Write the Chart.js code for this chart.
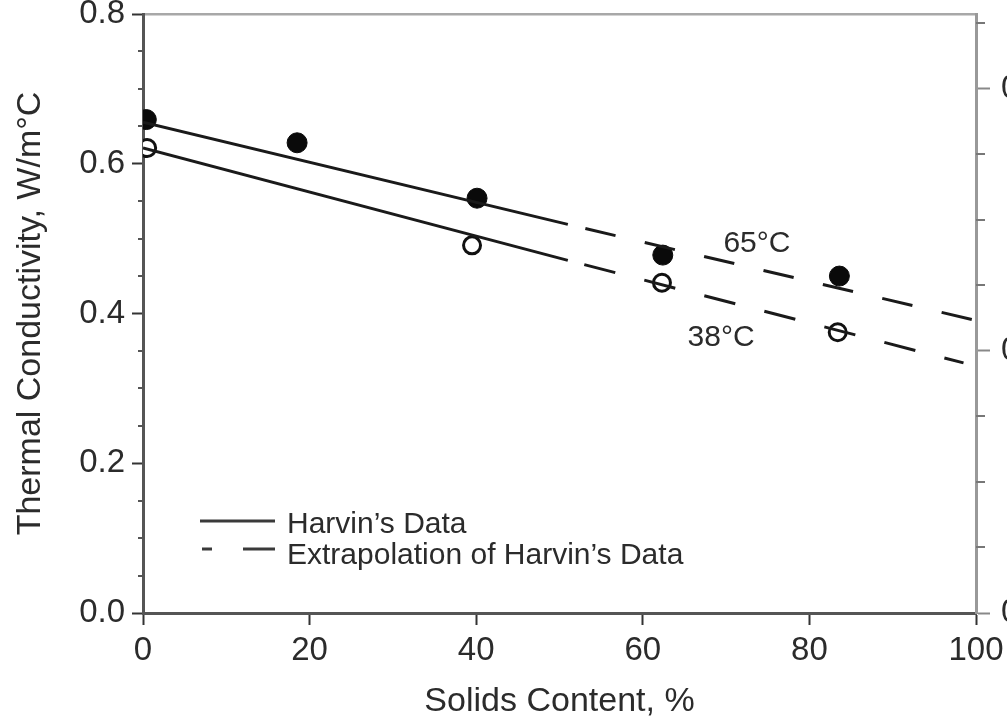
<!DOCTYPE html>
<html>
<head>
<meta charset="utf-8">
<script src="https://cdn.jsdelivr.net/npm/chart.js@4.4.0/dist/chart.umd.min.js"></script>
<style>
html, body { margin: 0; padding: 0; background: #fff; overflow: hidden; }
#wrap { width: 1007px; height: 722px; position: relative; }
</style>
</head>
<body>
<div id="wrap"><canvas id="chart" width="1007" height="722"></canvas></div>
<script>
// measured points, solids content (%) vs thermal conductivity (W/m°C)
const solids65 = [0.4, 18.5, 40.1, 62.4, 83.6];
const cond65 = [0.659, 0.628, 0.554, 0.478, 0.450];
const solids38 = [0.5, 39.5, 62.3, 83.4];
const cond38 = [0.621, 0.491, 0.441, 0.375];

// fitted lines: solid part = Harvin's data, dashed part = extrapolation
const fit65X = [0, 51, 99.5];
const fit65Y = [0.6555, 0.519, 0.392];
const fit38X = [0, 51, 98.5];
const fit38Y = [0.621, 0.471, 0.334];

// axis ticks
const xTicks = [0, 20, 40, 60, 80, 100];
const yTicks = [0.0, 0.2, 0.4, 0.6, 0.8];
const yMinorStep = 0.05;
const rightTicks = [0.0, 0.2, 0.4];   // right axis, Btu/hr ft °F
const rightMinorStep = 0.05;
const rightMax = 0.457;

// curve labels
const curveLabels = [
    { text: '65°C', x: 73.7, y: 0.493 },
    { text: '38°C', x: 69.4, y: 0.368 }
];

const FONT = "'Liberation Sans', Arial, sans-serif";
const TEXT = '#2b2b2b';

function pts(xs, ys) {
    return xs.map((x, i) => ({ x: x, y: ys[i] }));
}

// zero out the label overhang padding so the plot box stays where it is
function noOverhang(s) {
    s.paddingTop = 0;
    s.paddingBottom = 0;
    s.paddingLeft = 0;
    s.paddingRight = 0;
}

// short ticks between the labelled ones on both vertical axes
const minorTicks = {
    id: 'minorTicks',
    afterDraw(chart) {
        const ctx = chart.ctx;
        const y = chart.scales.y;
        const yR = chart.scales.yR;
        ctx.save();
        ctx.lineWidth = 2;
        ctx.strokeStyle = '#555';
        for (let v = yMinorStep; v < y.max; v += yMinorStep) {
            if (yTicks.some(t => Math.abs(t - v) < 1e-6)) continue;
            const py = Math.round(y.getPixelForValue(v));
            ctx.beginPath();
            ctx.moveTo(y.right - 5, py);
            ctx.lineTo(y.right, py);
            ctx.stroke();
        }
        ctx.strokeStyle = '#777';
        for (let v = rightMinorStep; v < yR.max; v += rightMinorStep) {
            if (rightTicks.some(t => Math.abs(t - v) < 1e-6)) continue;
            const py = Math.round(yR.getPixelForValue(v));
            ctx.beginPath();
            ctx.moveTo(yR.left, py);
            ctx.lineTo(yR.left + 9, py);
            ctx.stroke();
        }
        ctx.restore();
    }
};

// legend inside the plot and the curve labels
const notes = {
    id: 'notes',
    afterDraw(chart) {
        const ctx = chart.ctx;
        const xs = chart.scales.x;
        const ys = chart.scales.y;
        ctx.save();
        ctx.strokeStyle = '#3a3a3a';
        ctx.lineWidth = 3;
        ctx.beginPath();
        ctx.moveTo(200, 521); ctx.lineTo(275, 521);
        ctx.moveTo(202, 549); ctx.lineTo(212, 549);
        ctx.moveTo(243, 549); ctx.lineTo(275, 549);
        ctx.stroke();

        ctx.fillStyle = TEXT;
        ctx.font = '30px ' + FONT;
        ctx.textAlign = 'left';
        ctx.textBaseline = 'middle';
        ctx.fillText('Harvin’s Data', 287, 525);
        ctx.fillText('Extrapolation of Harvin’s Data', 287, 556);

        ctx.textAlign = 'center';
        curveLabels.forEach(l => {
            ctx.fillText(l.text, xs.getPixelForValue(l.x), ys.getPixelForValue(l.y));
        });
        ctx.restore();
    }
};

const lineStyle = { showLine: true, borderColor: '#1a1a1a', borderWidth: 3, pointRadius: 0 };

const ctx = document.getElementById('chart').getContext('2d');
const chart = new Chart(ctx, {
    type: 'scatter',
    data: {
        datasets: [
            Object.assign({ data: pts(fit65X.slice(0, 2), fit65Y.slice(0, 2)) }, lineStyle),
            Object.assign({ data: pts(fit65X.slice(1), fit65Y.slice(1)),
                borderDash: [31, 30], borderDashOffset: 43 }, lineStyle),
            Object.assign({ data: pts(fit38X.slice(0, 2), fit38Y.slice(0, 2)) }, lineStyle),
            Object.assign({ data: pts(fit38X.slice(1), fit38Y.slice(1)),
                borderDash: [32, 30], borderDashOffset: 45 }, lineStyle),
            {
                label: '65°C',
                data: pts(solids65, cond65),
                pointRadius: 10, backgroundColor: '#0a0a0a', borderColor: '#0a0a0a', borderWidth: 1
            },
            {
                label: '38°C',
                data: pts(solids38, cond38),
                pointRadius: 8.5, backgroundColor: '#fff', borderColor: '#111', borderWidth: 3
            }
        ]
    },
    options: {
        responsive: false,
        animation: false,
        layout: { padding: { top: 14, left: 0, right: 0, bottom: 0 } },
        plugins: {
            legend: { display: false },
            tooltip: { enabled: false }
        },
        scales: {
            x: {
                type: 'linear', position: 'bottom', min: 0, max: 100,
                afterBuildTicks: s => { s.ticks = xTicks.map(v => ({ value: v })); },
                grid: { drawOnChartArea: false, tickLength: 12, tickWidth: 2, tickColor: '#333' },
                border: { display: true, color: '#555', width: 3 },
                ticks: {
                    color: TEXT, padding: 6, maxRotation: 0,
                    font: { family: FONT, size: 33 },
                    callback: v => String(v)
                },
                title: {
                    display: true, text: 'Solids Content, %', color: TEXT,
                    font: { family: FONT, size: 34 }, padding: { top: 4, bottom: 0 }
                },
                afterFit: s => { s.height = 109; noOverhang(s); }
            },
            xTop: {
                type: 'linear', position: 'top', min: 0, max: 100,
                grid: { display: false },
                border: { display: true, color: '#a8a8a8', width: 2.5 },
                ticks: { display: false },
                afterFit: s => { s.height = 0; noOverhang(s); }
            },
            y: {
                position: 'left', min: 0, max: 0.8,
                afterBuildTicks: s => { s.ticks = yTicks.map(v => ({ value: v })); },
                grid: { drawOnChartArea: false, tickLength: 11, tickWidth: 2, tickColor: '#333' },
                border: { display: true, color: '#555', width: 3 },
                ticks: {
                    color: TEXT, padding: 7,
                    font: { family: FONT, size: 33 },
                    callback: v => v.toFixed(1)
                },
                title: {
                    display: true, text: 'Thermal Conductivity, W/m°C', color: TEXT,
                    font: { family: FONT, size: 34 }, padding: { top: 10, bottom: 0 }
                },
                afterFit: s => { s.width = 143; noOverhang(s); }
            },
            yR: {
                position: 'right', min: 0, max: rightMax,
                afterBuildTicks: s => { s.ticks = rightTicks.map(v => ({ value: v })); },
                grid: { drawOnChartArea: false, tickLength: 14, tickWidth: 2, tickColor: '#888' },
                border: { display: true, color: '#999', width: 3 },
                ticks: {
                    color: TEXT, padding: 11,
                    font: { family: FONT, size: 33 },
                    callback: v => v.toFixed(1)
                },
                afterFit: s => { s.width = 31; noOverhang(s); }
            }
        }
    },
    plugins: [minorTicks, notes]
});
</script>
</body>
</html>
